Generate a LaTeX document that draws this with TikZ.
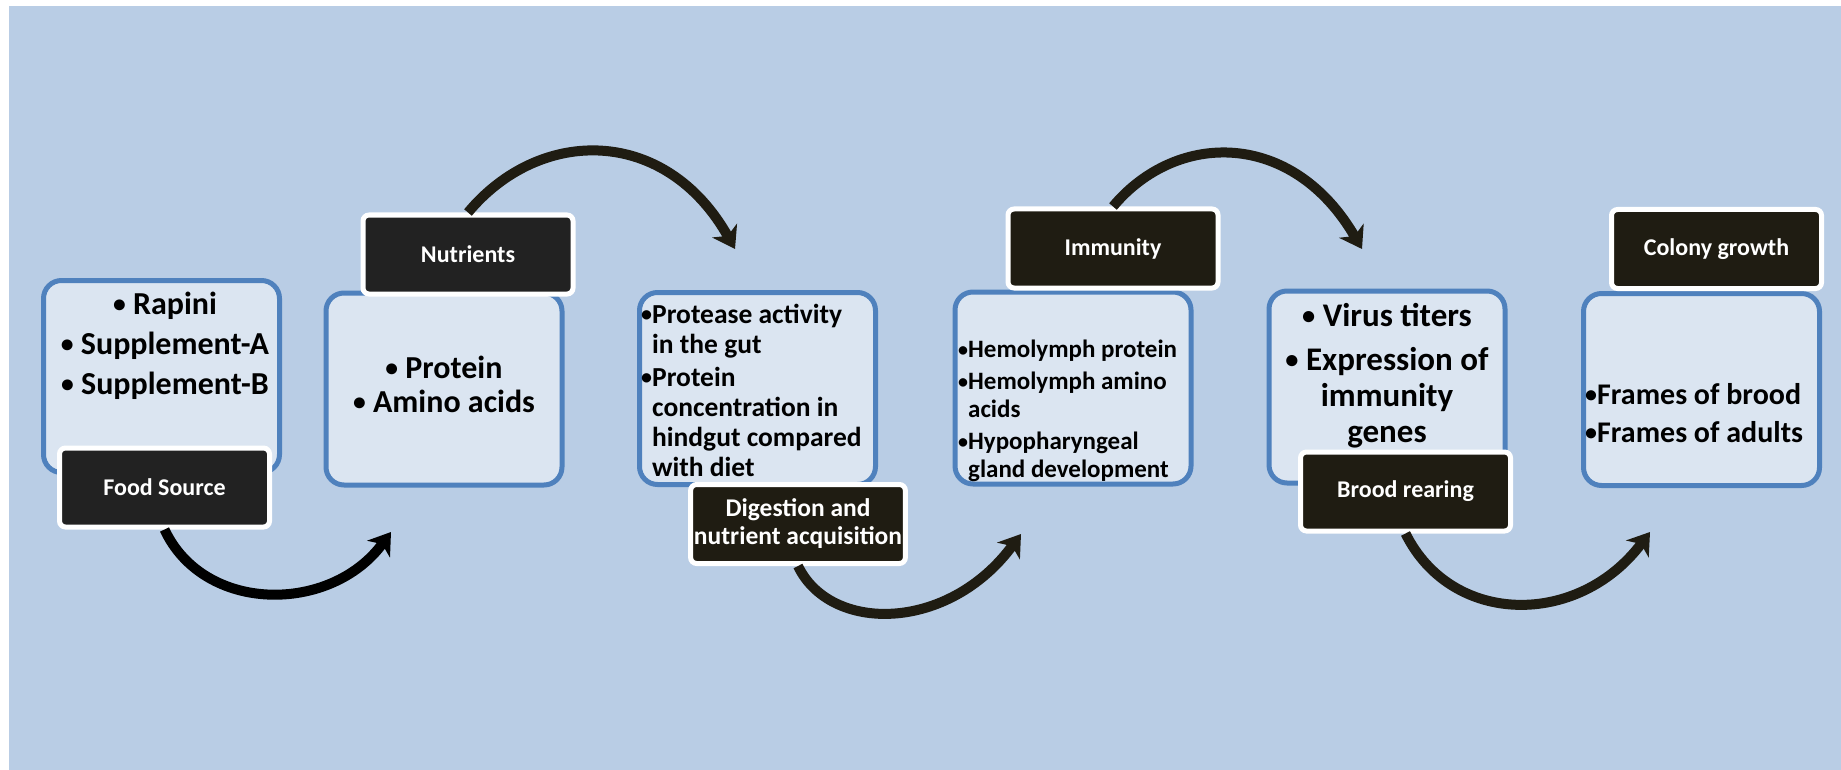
\documentclass[tikz,border=0pt]{standalone}
\usepackage{fontspec}
\setmainfont{Carlito}
\usetikzlibrary{arrows.meta,positioning}
\definecolor{bgblue}{HTML}{B9CDE5}
\definecolor{boxfill}{HTML}{DBE5F1}
\definecolor{boxline}{HTML}{4F81BD}
\definecolor{taggray}{HTML}{222222}
\definecolor{tagdark}{HTML}{1F1C12}
\newcommand{\itembul}{\raisebox{0.06em}{\scalebox{0.8}{•}}}

\tikzset{
	stagebox/.style={draw=boxline, line width=5pt, fill=boxfill, rounded corners=18pt, minimum width=236pt, minimum height=192pt},
	tagbox/.style={draw=white, line width=5pt, fill=#1, rounded corners=6pt, minimum width=210pt, minimum height=79pt, text=white, align=center, font=\bfseries\fontsize{24}{27}\selectfont},
	flow/.style={draw=#1, line width=10pt, -{Stealth[length=21pt,width=28pt,inset=6pt]}},
	itemtext/.style={text=black, align=center, inner sep=0pt},
}

\begin{document}
\begin{tikzpicture}[x=1pt, y=-1pt]
		\useasboundingbox (0,0) rectangle (1841,770);
		\fill[bgblue] (9,6) rectangle (1841,770);
		
		% content boxes
		\node[stagebox] (foodbox) at (161.5,376.5) {};
		\node[stagebox] (nutrbox) at (444,389) {};
		\node[stagebox] (digbox) at (757.5,388.5) {};
		\node[stagebox] (immbox) at (1073,388) {};
		\node[stagebox] (broodbox) at (1387,387) {};
		\node[stagebox] (colbox) at (1701.5,389.5) {};
		
		\node[itemtext, font=\bfseries\fontsize{32}{40}\selectfont] (foodtxt) at (165,346) {\itembul{} Rapini\\\itembul{} Supplement-A\\\itembul{} Supplement-B};
		\node[itemtext, font=\bfseries\fontsize{32}{34}\selectfont] (nutrtxt) at (444,384) {\itembul{} Protein\\\itembul{} Amino acids};
		\node[itemtext, anchor=west, font=\bfseries\fontsize{27.5}{30}\selectfont] (digtxt) at (641,394) {%
			\begin{tabular}{@{}l@{}l@{}}
				\itembul&Protease activity\\
				&in the gut\\[3pt]
				\itembul&Protein\\
				&concentration in\\
				&hindgut compared\\
				&with diet
			\end{tabular}};
		\node[itemtext, anchor=west, font=\bfseries\fontsize{25}{28}\selectfont] (immtxt) at (958,412) {%
			\begin{tabular}{@{}l@{}l@{}}
				\itembul&Hemolymph protein\\[4pt]
				\itembul&Hemolymph amino\\
				&acids\\[4pt]
				\itembul&Hypopharyngeal\\
				&gland development
			\end{tabular}};
		\node[itemtext, font=\bfseries\fontsize{33}{36}\selectfont] (broodtxt) at (1387,376) {\itembul{} Virus titers\\[8pt]\itembul{} Expression of\\immunity\\genes};
		\node[itemtext, anchor=west, font=\bfseries\fontsize{30}{30}\selectfont] (coltxt) at (1585,417) {%
			\begin{tabular}{@{}l@{}l@{}}
				\itembul&Frames of brood\\[8pt]
				\itembul&Frames of adults
			\end{tabular}};
		
		% stage labels
		\node[tagbox=taggray] (food) at (164.5,487.5) {Food Source};
		\node[tagbox=taggray] (nutrients) at (468,254.5) {Nutrients};
		\node[tagbox=tagdark, font=\bfseries\fontsize{25.5}{28}\selectfont] (digestion) at (798,524) {Digestion and\\nutrient acquisition};
		\node[tagbox=tagdark] (immunity) at (1113,248.5) {Immunity};
		\node[tagbox=tagdark] (brood) at (1405.5,491.5) {Brood rearing};
		\node[tagbox=tagdark] (colony) at (1716.5,249) {Colony growth};
		
		% arrow ends
		\coordinate (tipA) at (391,532);
		\coordinate (tipB) at (735,249);
		\coordinate (tipC) at (1021,534);
		\coordinate (tipD) at (1362,249);
		\coordinate (tipE) at (1650,532);
		
		\draw[flow=black] (food.south) .. controls (204,614) and (331,614) .. (tipA);
		\draw[flow=tagdark] (nutrients.north) .. controls (540,126) and (666,126) .. (tipB);
		\draw[flow=tagdark] (digestion.south) .. controls (830,633) and (948,633) .. (tipC);
		\draw[flow=tagdark] (immunity.north) .. controls (1177,130) and (1293,130) .. (tipD);
		\draw[flow=tagdark] (brood.south) .. controls (1452,627) and (1579,627) .. (tipE);
\end{tikzpicture}
\end{document}
